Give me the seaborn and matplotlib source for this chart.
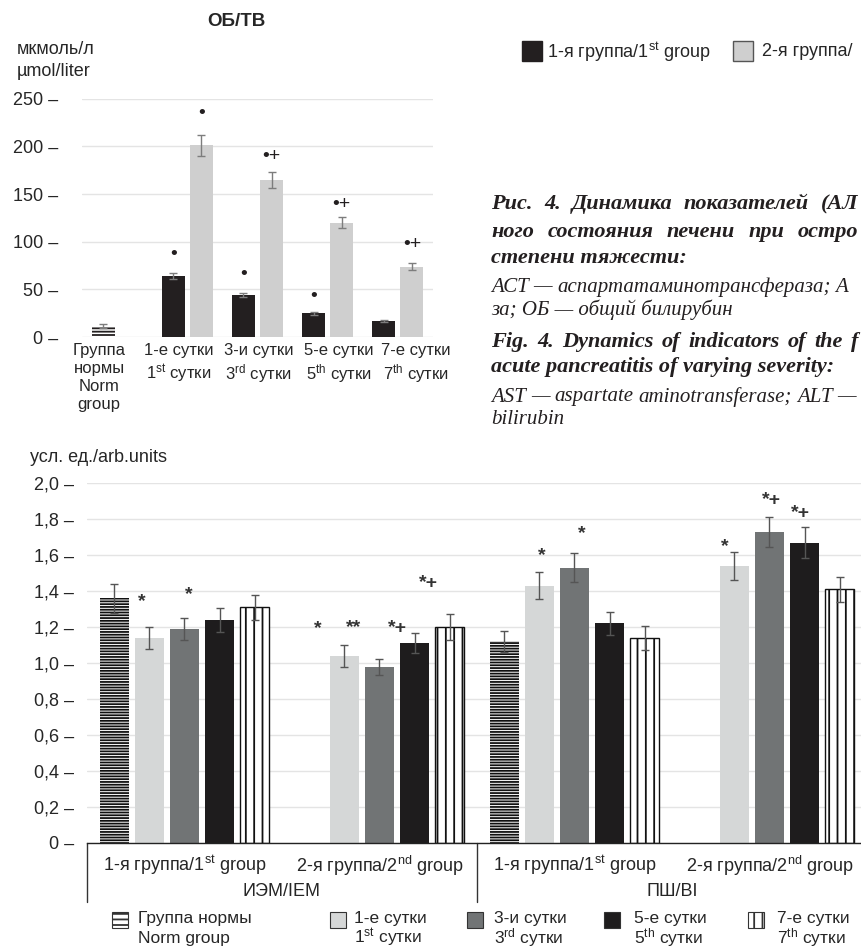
import numpy as np
import pandas as pd
import matplotlib
matplotlib.use("Agg")
import matplotlib.pyplot as plt
import matplotlib.transforms as mtransforms
from matplotlib.patches import Rectangle
import seaborn as sns

######### data: top chart (total bilirubin, umol/l) #########
tb_days = ["norm", "d1", "d3", "d5", "d7"]
tb_day_labels = ["Группа\nнормы\nNorm\ngroup",
                 "1-е сутки\n1$^{st}$ сутки",
                 "3-и сутки\n3$^{rd}$ сутки",
                 "5-е сутки\n5$^{th}$ сутки",
                 "7-е сутки\n7$^{th}$ сутки"]
tb_group1 = [12, 64, 44, 25, 17]
tb_group2 = [np.nan, 201, 165, 120, 74]
tb_err1 = [2, 3, 2, 1.5, 0.8]
tb_err2 = [np.nan, 11, 8.5, 6, 4]
tb_ticks = [0, 50, 100, 150, 200, 250]
# (day index, group index, y, mark)
tb_marks = [(1, 0, 87, "•"), (1, 1, 234, "•"), (2, 0, 66, "•"), (2, 1, 189, "•+"),
            (3, 0, 43, "•"), (3, 1, 139, "•+"), (4, 1, 97, "•+")]

######### data: bottom chart (IEM / BI, arb. units) #########
bi_groups = ["iem1", "iem2", "bi1", "bi2"]
bi_group_labels = ["1-я группа/1$^{st}$ group", "2-я группа/2$^{nd}$ group",
                   "1-я группа/1$^{st}$ group", "2-я группа/2$^{nd}$ group"]
bi_metrics = ["ИЭМ/IEM", "ПШ/BI"]
bi_days = ["norm", "d1", "d3", "d5", "d7"]
bi_norm = [1.36, np.nan, 1.12, np.nan]
bi_d1 = [1.14, 1.04, 1.43, 1.54]
bi_d3 = [1.19, 0.98, 1.53, 1.73]
bi_d5 = [1.24, 1.11, 1.22, 1.67]
bi_d7 = [1.31, 1.20, 1.14, 1.41]
bi_err_norm = [0.08, np.nan, 0.06, np.nan]
bi_err_d1 = [0.06, 0.06, 0.075, 0.08]
bi_err_d3 = [0.06, 0.045, 0.08, 0.085]
bi_err_d5 = [0.065, 0.055, 0.065, 0.085]
bi_err_d7 = [0.07, 0.07, 0.065, 0.07]
bi_ticks = [0, 0.2, 0.4, 0.6, 0.8, 1.0, 1.2, 1.4, 1.6, 1.8, 2.0]
# (group index, day index, y, mark)
bi_marks = [(0, 1, 1.34, "*"), (0, 2, 1.38, "*"),
            (1, 0, 1.19, "*"), (1, 1, 1.195, "**"), (1, 3, 1.19, "*+"), (1, 4, 1.44, "*+"),
            (2, 1, 1.60, "*"), (2, 2, 1.72, "*"),
            (3, 1, 1.65, "*"), (3, 2, 1.905, "*+"), (3, 3, 1.83, "*+")]
bi_mark_shift = [-8, 4, 8, 9, -17, -21, 2, 7, -10, 2, -4]   # pixels

legend_days = ["Группа нормы\nNorm group", "1-е сутки\n1$^{st}$ сутки", "3-и сутки\n3$^{rd}$ сутки",
               "5-е сутки\n5$^{th}$ сутки", "7-е сутки\n7$^{th}$ сутки"]

sns.set_theme(style="white")
plt.rcParams['font.family'] = ['Liberation Sans', 'DejaVu Sans']
plt.rcParams['mathtext.default'] = 'regular'
plt.rcParams['hatch.linewidth'] = 1.3

W, H = 862, 949
fig = plt.figure(figsize=(W / 100, H / 100), dpi=100)
renderer = fig.canvas.get_renderer()


def fx(px):
    return px / W


def fy(py):
    return 1 - py / H


def justify(y, text, x0, x1, **kw):
    # spread the words of one caption line between x0 and x1
    words = text.split(" ")
    arts = [fig.text(0, fy(y), w, ha='left', va='center', **kw) for w in words]
    widths = [a.get_window_extent(renderer).width for a in arts]
    gap = (x1 - x0 - sum(widths)) / max(len(words) - 1, 1)
    x = x0
    for a, w in zip(arts, widths):
        a.set_x(fx(x))
        x += w + gap


FS = 13
GRID = '#e4e4e4'
DARK = '#231f20'

######### top chart #########
ax1 = fig.add_axes([fx(82), fy(337.2), (433 - 82) / W, (337.2 - 98.7) / H])
top_df = pd.DataFrame({
    "day": tb_days * 2,
    "group": ["g1"] * 5 + ["g2"] * 5,
    "value": tb_group1 + tb_group2,
}).dropna()
sns.barplot(data=top_df, x="day", y="value", hue="group", order=tb_days,
            hue_order=["g1", "g2"], palette={"g1": DARK, "g2": "#cfcfcf"},
            width=0.8, gap=0.18, errorbar=None, saturation=1, legend=False,
            ax=ax1, zorder=2, linewidth=0)
ax1.set_ylim(0, 250)
ax1.set_xlim(-0.5, 4.5)
ax1.set_yticks(tb_ticks)
ax1.set_yticklabels([f"{t} –" for t in tb_ticks], fontsize=FS)
ax1.set_xticks(range(5))
ax1.set_xticklabels(tb_day_labels, fontsize=12, linespacing=1.25)
ax1.tick_params(axis='y', length=0, pad=17)
ax1.tick_params(axis='x', length=0, pad=4)
# the day labels are spread a little wider than the bars
for lab, off in zip(ax1.get_xticklabels(), [-18, -9, 1, 11, 18]):
    lab.set_transform(lab.get_transform() + mtransforms.ScaledTranslation(off / 100, 0, fig.dpi_scale_trans))
ax1.set_xlabel("")
ax1.set_ylabel("")
ax1.grid(axis='y', color=GRID, lw=1, zorder=0)
ax1.set_axisbelow(True)
sns.despine(ax=ax1, left=True, bottom=True)

tb_err = [tb_err1, tb_err2]
for p in ax1.patches:
    xc = p.get_x() + p.get_width() / 2
    d = int(round(xc))
    g = 0 if xc < d else 1
    if d == 0:
        p.set_facecolor('white')
        p.set_edgecolor(DARK)
        p.set_hatch('-----')
        p.set_linewidth(0)
    e = tb_err[g][d]
    ax1.errorbar(xc, p.get_height(), yerr=e, fmt='none', ecolor='#7d7d7d',
                 elinewidth=1, capsize=3, capthick=1, zorder=3)

for d, g, y, m in tb_marks:
    ax1.text(d + (g - 0.5) * 0.4, y, m, ha='center', va='center', fontsize=14, color=DARK)

fig.text(fx(236), fy(22), "ОБ/ТВ", ha='center', va='center', fontsize=13.5, fontweight='bold')
fig.text(fx(17), fy(50), "мкмоль/л", ha='left', va='center', fontsize=FS)
fig.text(fx(17), fy(72), "µmol/liter", ha='left', va='center', fontsize=FS)

# top legend (runs past the right edge in the source page)
fig.add_artist(Rectangle((fx(522), fy(61)), 20 / W, 20 / H, transform=fig.transFigure,
                         facecolor=DARK, edgecolor=DARK, lw=1))
fig.text(fx(547), fy(52), "1-я группа/1$^{st}$ group", ha='left', va='center', fontsize=FS)
fig.add_artist(Rectangle((fx(733), fy(61)), 20 / W, 20 / H, transform=fig.transFigure,
                         facecolor='#cfcfcf', edgecolor='#555555', lw=1))
t2 = fig.text(fx(762), fy(52), "2-я группа/2", ha='left', va='center', fontsize=FS)
s = t2.get_text()
while t2.get_window_extent(renderer).x1 > W - 1 and len(s) > 1:
    s = s[:-1]
    t2.set_text(s)

######### caption (visible part of the page column) #########
serif = dict(family=['Liberation Serif', 'DejaVu Serif'], fontstyle='italic', color='#231f20')
justify(204, "Рис. 4. Динамика показателей (АЛ", 491, 858, fontsize=16, fontweight='bold', **serif)
justify(232, "ного состояния печени при остро", 491, 858, fontsize=16, fontweight='bold', **serif)
fig.text(fx(491), fy(258), "степени тяжести:", ha='left', va='center', fontsize=16, fontweight='bold', **serif)
justify(287, "АСТ — аспартатаминотрансфераза; А", 491, 848, fontsize=15, **serif)
fig.text(fx(491), fy(310), "за; ОБ — общий билирубин", ha='left', va='center', fontsize=15, **serif)
justify(342, "Fig. 4. Dynamics of indicators of the f", 491, 858, fontsize=16, fontweight='bold', **serif)
fig.text(fx(491), fy(367), "acute pancreatitis of varying severity:", ha='left', va='center',
         fontsize=16, fontweight='bold', **serif)
justify(397, "AST — aspartate aminotransferase; ALT —", 491, 856, fontsize=15, **serif)
fig.text(fx(491), fy(420), "bilirubin", ha='left', va='center', fontsize=15, **serif)

######### bottom chart #########
ax2 = fig.add_axes([fx(87), fy(842.7), 780 / W, (842.7 - 483.3) / H])
bi_values = [bi_norm, bi_d1, bi_d3, bi_d5, bi_d7]
bi_errs = [bi_err_norm, bi_err_d1, bi_err_d3, bi_err_d5, bi_err_d7]
rows = []
for di, day in enumerate(bi_days):
    for gi, grp in enumerate(bi_groups):
        rows.append({"group": grp, "day": day, "value": bi_values[di][gi]})
bot_df = pd.DataFrame(rows).dropna()
bi_palette = {"norm": 'white', "d1": '#d5d7d7', "d3": '#717475', "d5": '#1e1c1d', "d7": 'white'}
sns.barplot(data=bot_df, x="group", y="value", hue="day", order=bi_groups,
            hue_order=bi_days, palette=bi_palette, width=0.9, gap=0.17,
            errorbar=None, saturation=1, legend=False, ax=ax2, zorder=2, linewidth=0)
ax2.set_xlim(-0.5, 3.5)
ax2.set_ylim(0, 2.0)
ax2.set_yticks(bi_ticks)
ax2.set_yticklabels([("0" if t == 0 else f"{t:.1f}".replace('.', ',')) + " –" for t in bi_ticks],
                    fontsize=FS)
ax2.set_xticks(range(4))
ax2.set_xticklabels(bi_group_labels, fontsize=FS)
ax2.tick_params(axis='y', length=0, pad=9)
ax2.tick_params(axis='x', length=0, pad=8)
ax2.set_xlabel("")
ax2.set_ylabel("")
ax2.grid(axis='y', color=GRID, lw=1, zorder=0)
ax2.set_axisbelow(True)
sns.despine(ax=ax2, left=True)
ax2.spines['bottom'].set_color('#222222')
ax2.spines['bottom'].set_linewidth(1)
ax2.spines['bottom'].set_zorder(4)

slot = 0.9 / 5
for p in ax2.patches:
    xc = p.get_x() + p.get_width() / 2
    g = int(round(xc))
    d = int(round((xc - g) / slot)) + 2
    if d == 0:
        p.set_facecolor('white')
        p.set_edgecolor('#111111')
        p.set_hatch('------')
        p.set_linewidth(0)
    elif d == 4:
        p.set_facecolor('white')
        p.set_edgecolor('#111111')
        p.set_hatch('||')
        p.set_linewidth(1)
    ax2.errorbar(xc, p.get_height(), yerr=bi_errs[d][g], fmt='none', ecolor='#555555',
                 elinewidth=1, capsize=3, capthick=1, zorder=3)

for (g, d, y, m), sh in zip(bi_marks, bi_mark_shift):
    ax2.text(g + (d - 2) * slot + sh / 195, y, m, ha='center', va='center',
             fontsize=14, fontweight='bold', color='#333333')

blend = mtransforms.blended_transform_factory(ax2.transData, ax2.transAxes)
for xs in [-0.5, 1.5, 3.5]:
    ax2.plot([xs, xs], [0, -0.164], transform=blend, color='#333333', lw=1, clip_on=False)
for i, lab in enumerate(bi_metrics):
    ax2.text(0.5 + 2 * i, -0.136, lab, transform=blend, ha='center', va='center', fontsize=FS)

fig.text(fx(30), fy(457), "усл. ед./arb.units", ha='left', va='center', fontsize=FS)

# bottom legend: two text rows under each swatch
leg_icon_x = [112, 330, 467, 604, 748]
leg_text_x = [138, 354, 494, 634, 777]
for i, lab in enumerate(legend_days):
    col = bi_palette[bi_days[i]]
    r = Rectangle((fx(leg_icon_x[i]), fy(928)), 16 / W, 16 / H, transform=fig.transFigure,
                  facecolor=col, edgecolor='#333333', lw=0.8)
    if i == 0:
        r.set_hatch('---')
    elif i == 4:
        r.set_hatch('||')
    fig.add_artist(r)
    line1, line2 = lab.split("\n")
    fig.text(fx(leg_text_x[i]), fy(919), line1, ha='left', va='center', fontsize=12.5)
    fig.text(fx(leg_text_x[i]), fy(938), line2, ha='left', va='center', fontsize=12.5)

fig.savefig("out.png", dpi=100)
